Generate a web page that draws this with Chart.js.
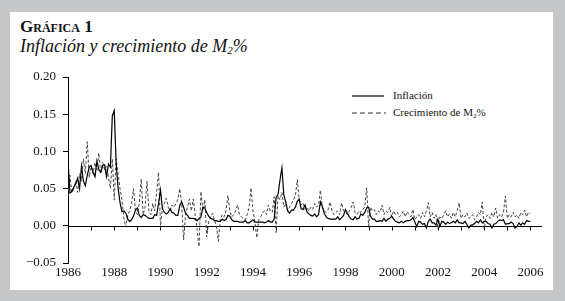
<!DOCTYPE html>
<html>
<head>
<meta charset="utf-8">
<script src="https://cdn.jsdelivr.net/npm/chart.js@4"></script>
<style>
  body { margin:0; width:565px; height:301px; background:#c5c6c8; position:relative; overflow:hidden; font-family:"Liberation Serif", serif; }
  #panel { position:absolute; left:10px; top:12px; width:543px; height:278px; background:#fff; }
  #t1 { position:absolute; left:20px; top:18px; font-size:17px; font-weight:bold; font-variant:small-caps; line-height:1; color:#111; }
  #t2 { position:absolute; left:20px; top:37px; font-size:18px; font-style:italic; line-height:1; color:#111; }
  #t2 sub { font-size:11px; vertical-align:-2px; line-height:0; }
  .lg { position:absolute; left:393px; font-size:11px; line-height:1; color:#111; }
  .lg sub { font-size:7px; vertical-align:-2px; line-height:0; }
  svg.ls { position:absolute; left:352px; }
  canvas { position:absolute; left:0; top:0; }
</style>
</head>
<body>
<div id="panel"></div>
<div id="t1">Gráfica 1</div>
<div id="t2">Inflación y crecimiento de M<sub>2</sub>%</div>
<svg class="ls" style="top:91px" width="34" height="10"><line x1="0" y1="5" x2="32" y2="5" stroke="#000" stroke-width="1.2"/></svg>
<div class="lg" style="top:90px">Inflación</div>
<svg class="ls" style="top:108px" width="34" height="10"><line x1="0" y1="5" x2="34" y2="5" stroke="#333" stroke-width="1" stroke-dasharray="5,3"/></svg>
<div class="lg" style="top:107px">Crecimiento de M<sub>2</sub>%</div>
<canvas id="c" width="565" height="301"></canvas>
<script>
const startYear = 1986;
const xLabelYears = [1986, 1988, 1990, 1992, 1994, 1996, 1998, 2000, 2002, 2004, 2006];
const yTicks = [-0.05, 0, 0.05, 0.10, 0.15, 0.20];

// monthly, Jan 1986 .. Jan 2006
const inflacion = [
  0.088, 0.044, 0.046, 0.052, 0.056, 0.064, 0.050, 0.080, 0.060, 0.054, 0.068, 0.079,
  0.081, 0.072, 0.066, 0.087, 0.075, 0.072, 0.081, 0.082, 0.066, 0.083, 0.079, 0.148,
  0.155, 0.083, 0.051, 0.031, 0.019, 0.020, 0.017, 0.009, 0.006, 0.008, 0.013, 0.021,
  0.024, 0.014, 0.011, 0.015, 0.014, 0.012, 0.010, 0.010, 0.010, 0.015, 0.014, 0.030,
  0.048, 0.023, 0.018, 0.016, 0.018, 0.023, 0.018, 0.017, 0.014, 0.014, 0.027, 0.032,
  0.025, 0.017, 0.014, 0.010, 0.010, 0.010, 0.009, 0.007, 0.010, 0.012, 0.025, 0.024,
  0.018, 0.013, 0.010, 0.009, 0.007, 0.007, 0.006, 0.006, 0.009, 0.007, 0.008, 0.014,
  0.013, 0.008, 0.006, 0.006, 0.006, 0.005, 0.005, 0.005, 0.007, 0.004, 0.004, 0.006,
  0.008, 0.005, 0.005, 0.005, 0.005, 0.005, 0.004, 0.005, 0.007, 0.005, 0.005, 0.009,
  0.038, 0.042, 0.061, 0.078, 0.042, 0.032, 0.020, 0.017, 0.021, 0.021, 0.025, 0.033,
  0.036, 0.023, 0.022, 0.028, 0.019, 0.016, 0.014, 0.013, 0.016, 0.012, 0.015, 0.032,
  0.026, 0.017, 0.012, 0.010, 0.009, 0.009, 0.009, 0.009, 0.012, 0.008, 0.011, 0.014,
  0.022, 0.017, 0.012, 0.009, 0.008, 0.012, 0.009, 0.010, 0.016, 0.014, 0.018, 0.024,
  0.025, 0.013, 0.009, 0.009, 0.006, 0.006, 0.007, 0.006, 0.010, 0.006, 0.009, 0.010,
  0.013, 0.009, 0.006, 0.005, 0.004, 0.006, 0.004, 0.006, 0.007, 0.007, 0.008, 0.011,
  0.005, -0.001, 0.006, 0.005, 0.002, 0.003, -0.003, 0.006, 0.009, 0.004, 0.004, 0.001,
  0.009, -0.001, 0.006, 0.005, 0.002, 0.005, 0.003, 0.004, 0.006, 0.004, 0.008, 0.004,
  0.004, 0.003, 0.006, 0.002, -0.003, 0.001, 0.001, 0.003, 0.006, 0.004, 0.008, 0.004,
  0.006, 0.006, 0.003, 0.002, -0.003, 0.002, 0.003, 0.006, 0.008, 0.007, 0.008, 0.002,
  0.003, 0.003, 0.005, 0.003, -0.003, -0.001, 0.004, 0.001, 0.004, 0.002, 0.007, 0.006,
  0.006
];

const crecimientoM2 = [
  0.040, 0.068, 0.045, 0.050, 0.060, 0.045, 0.070, 0.060, 0.090, 0.070, 0.113, 0.065,
  0.080, 0.070, 0.085, 0.075, 0.098, 0.070, 0.085, 0.075, 0.080, 0.065, 0.050, 0.090,
  0.035, 0.090, 0.070, 0.050, 0.035, 0.010, -0.002, 0.015, 0.020, 0.030, 0.050, 0.020,
  0.015, 0.030, 0.063, 0.015, 0.025, 0.060, 0.020, 0.015, 0.030, 0.020, 0.045, 0.072,
  0.000, 0.025, 0.030, 0.037, 0.025, 0.020, 0.028, 0.025, 0.030, 0.035, 0.050, 0.030,
  -0.019, 0.015, 0.025, 0.036, 0.020, 0.036, 0.015, -0.005, -0.028, 0.046, 0.020, 0.035,
  -0.015, 0.005, 0.012, 0.017, 0.008, 0.000, -0.021, 0.008, 0.015, 0.012, 0.020, 0.041,
  0.020, 0.012, 0.015, 0.020, 0.028, 0.015, 0.012, 0.010, 0.008, 0.015, 0.025, 0.051,
  0.020, 0.005, -0.016, 0.008, 0.012, 0.018, 0.020, 0.015, 0.028, 0.020, 0.018, 0.039,
  -0.009, 0.040, 0.035, 0.045, 0.025, 0.030, 0.020, 0.025, 0.030, 0.035, 0.040, 0.062,
  0.035, 0.028, 0.031, 0.022, 0.025, 0.020, 0.025, 0.022, 0.030, 0.025, 0.028, 0.048,
  0.025, 0.020, 0.018, 0.022, 0.032, 0.020, 0.015, 0.018, 0.020, 0.015, 0.031, 0.020,
  0.018, 0.015, 0.020, 0.025, 0.032, 0.018, 0.015, 0.020, 0.018, 0.022, 0.025, 0.051,
  0.000, 0.025, 0.020, 0.022, 0.015, 0.020, 0.018, 0.028, 0.015, 0.020, 0.018, 0.025,
  0.012, 0.020, 0.015, 0.018, 0.012, 0.015, 0.020, 0.012, 0.019, 0.015, 0.012, 0.022,
  0.008, 0.012, 0.015, 0.010, 0.018, 0.012, 0.020, 0.031, 0.012, 0.018, 0.010, 0.015,
  -0.004, 0.012, 0.010, 0.015, 0.020, 0.012, 0.016, 0.010, 0.018, 0.012, 0.020, 0.031,
  0.010, 0.015, 0.012, 0.017, 0.010, 0.012, 0.015, 0.008, 0.012, 0.018, 0.015, 0.032,
  -0.004, 0.012, 0.015, 0.010, 0.018, 0.012, 0.024, 0.010, 0.015, 0.012, 0.018, 0.040,
  0.010, 0.015, 0.012, 0.018, 0.012, 0.015, 0.010, 0.018, 0.015, 0.021, 0.012, 0.018,
  0.017
];

const toPoints = arr => arr.map((v, i) => ({ x: startYear + i / 12, y: v }));

// zero line with yearly tick marks hanging below it
const zeroAxis = {
  id: 'zeroAxis',
  beforeDatasetsDraw(chart) {
    const { ctx, chartArea, scales: { x, y } } = chart;
    const y0 = Math.round(y.getPixelForValue(0)) + 0.5;
    ctx.save();
    ctx.strokeStyle = '#000';
    ctx.lineWidth = 1;
    ctx.beginPath();
    ctx.moveTo(chartArea.left, y0);
    ctx.lineTo(chartArea.right, y0);
    for (let yr = 1986; yr <= 2006; yr++) {
      const px = Math.round(x.getPixelForValue(yr)) + 0.5;
      ctx.moveTo(px, y0);
      ctx.lineTo(px, y0 + 4);
    }
    ctx.stroke();
    ctx.restore();
  }
};

const tickFont = { family: '"Liberation Serif", serif', size: 13 };

new Chart(document.getElementById('c'), {
  type: 'line',
  data: {
    datasets: [{
      label: 'Inflación',
      data: toPoints(inflacion),
      borderColor: '#000',
      borderWidth: 1.2,
      pointRadius: 0,
      tension: 0
    }, {
      label: 'Crecimiento de M2%',
      data: toPoints(crecimientoM2),
      borderColor: '#444',
      borderWidth: 1,
      borderDash: [3, 2],
      pointRadius: 0,
      tension: 0
    }]
  },
  options: {
    responsive: false,
    animation: false,
    layout: { padding: { left: 0, top: 77, right: 23, bottom: 0 } },
    plugins: { legend: { display: false }, tooltip: { enabled: false } },
    scales: {
      x: {
        type: 'linear',
        min: 1986,
        max: 2006.5,
        border: { display: false },
        grid: { display: false, drawTicks: false, tickLength: 0 },
        afterBuildTicks: s => { s.ticks = xLabelYears.map(v => ({ value: v })); },
        afterFit: s => { s.height = 38; },
        ticks: {
          color: '#111',
          font: tickFont,
          padding: 2,
          maxRotation: 0,
          autoSkip: false,
          callback: v => String(v)
        }
      },
      y: {
        min: -0.05,
        max: 0.20,
        border: { display: true, color: '#000', width: 1 },
        grid: { drawOnChartArea: false, drawTicks: true, tickLength: 5, color: '#000' },
        afterBuildTicks: s => { s.ticks = yTicks.map(v => ({ value: v })); },
        afterFit: s => { s.width = 68; },
        ticks: {
          color: '#111',
          font: tickFont,
          padding: 7,
          callback: v => (v < 0 ? '\u2212' : '') + Math.abs(v).toFixed(2)
        }
      }
    }
  },
  plugins: [zeroAxis]
});
</script>
</body>
</html>
